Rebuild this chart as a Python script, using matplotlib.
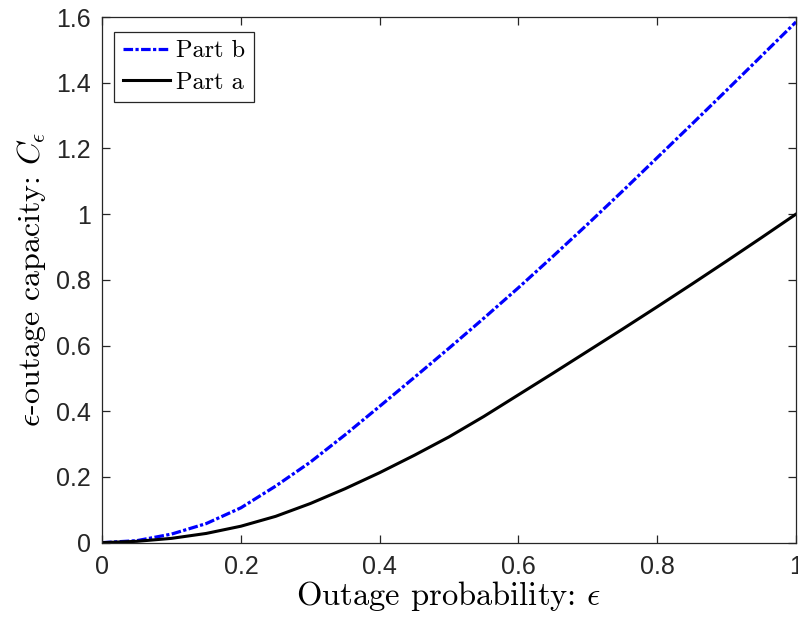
import matplotlib
matplotlib.use("Agg")
import matplotlib.pyplot as plt

eps = [0.0, 0.05, 0.10, 0.15, 0.20, 0.25, 0.30, 0.35, 0.40, 0.45, 0.50,
       0.55, 0.60, 0.65, 0.70, 0.75, 0.80, 0.85, 0.90, 0.95, 1.00]
part_b = [0.0, 0.006, 0.026, 0.058, 0.106, 0.172, 0.245, 0.328, 0.415, 0.503, 0.592,
          0.683, 0.776, 0.872, 0.970, 1.070, 1.172, 1.274, 1.377, 1.481, 1.585]
part_a = [0.0, 0.004, 0.013, 0.028, 0.050, 0.080, 0.119, 0.164, 0.213, 0.266, 0.322,
          0.384, 0.450, 0.516, 0.583, 0.650, 0.718, 0.787, 0.857, 0.928, 1.0]
xticks = [0, 0.2, 0.4, 0.6, 0.8, 1]
yticks = [0, 0.2, 0.4, 0.6, 0.8, 1, 1.2, 1.4, 1.6]
xticklabels = ['0', '0.2', '0.4', '0.6', '0.8', '1']
yticklabels = ['0', '0.2', '0.4', '0.6', '0.8', '1', '1.2', '1.4', '1.6']

plt.rcParams['mathtext.fontset'] = 'cm'

fig = plt.figure(figsize=(7.98, 6.23), dpi=100)
ax = fig.add_axes([0.128, 0.129, 0.8695, 0.8437])

ax.plot(eps, part_b, color='#0000ff', lw=2.3, linestyle=(0, (3.0, 0.75, 1.0, 0.75)), label='Part b')
ax.plot(eps, part_a, color='black', lw=2.2, label='Part a')

ax.set_xlim(0, 1)
ax.set_ylim(0, 1.6)
ax.set_xticks(xticks)
ax.set_xticklabels(xticklabels)
ax.set_yticks(yticks)
ax.set_yticklabels(yticklabels)

edge = '#262626'
for s in ax.spines.values():
    s.set_color(edge)
    s.set_linewidth(0.9)
ax.tick_params(direction='in', length=6, width=0.9, color=edge, top=True, right=True,
               labelsize=18, labelcolor=edge)
ax.tick_params(axis='x', pad=9)
ax.tick_params(axis='y', pad=8)
for lab in ax.get_xticklabels() + ax.get_yticklabels():
    lab.set_family('Liberation Sans')

ax.set_xlabel(r'Outage probability: $\epsilon$', fontsize=23.5, family='cmr10', labelpad=0)
ax.set_ylabel(r'$\epsilon$-outage capacity: $C_\epsilon$', fontsize=23, family='cmr10', labelpad=6)

leg = ax.legend(loc='upper left', prop={'family': 'cmr10', 'size': 17.5}, frameon=True,
                fancybox=False, framealpha=1, edgecolor=edge, borderpad=0.35,
                handlelength=1.95, handletextpad=0.25, labelspacing=0.38, borderaxespad=0,
                bbox_to_anchor=(0.0173, 0.972))
leg.get_frame().set_linewidth(0.9)

fig.savefig('out.png', dpi=100)
